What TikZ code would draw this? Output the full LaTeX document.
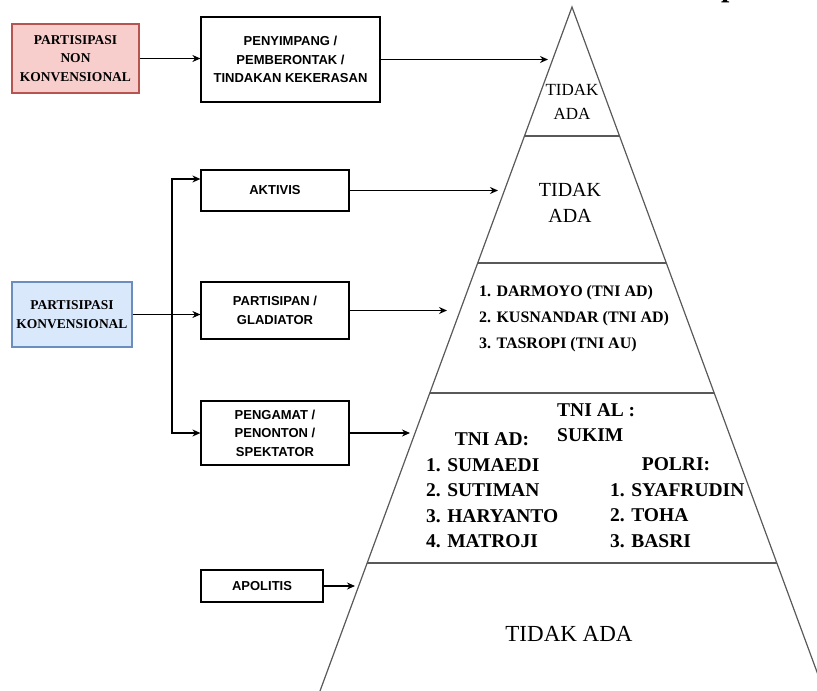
\documentclass[tikz,border=0pt]{standalone}
\usepackage{fontspec}
\setmainfont{Liberation Serif}
\setsansfont{Liberation Sans}
\usetikzlibrary{arrows.meta,calc}
\definecolor{pinkfill}{HTML}{F8CECC}
\definecolor{pinkline}{HTML}{B85450}
\definecolor{bluefill}{HTML}{DAE8FC}
\definecolor{blueline}{HTML}{6C8EBF}

\begin{document}
\begin{tikzpicture}[
  x=1pt, y=-1pt,
  box/.style={rectangle, draw, line width=1.2pt, minimum width=148pt, align=center,
    inner sep=2pt, font=\sffamily\bfseries\fontsize{13}{18.5}\selectfont},
  grp/.style={rectangle, draw, line width=1.2pt, align=center, inner sep=2pt,
    font=\bfseries\fontsize{13.5}{18.5}\selectfont},
  lvl/.style={inner sep=0pt, align=center},
  names/.style={inner sep=0pt, align=left, anchor=north west,
    font=\bfseries\fontsize{19.5}{25.5}\selectfont},
  head/.style={inner sep=0pt, font=\bfseries\fontsize{19.5}{25.5}\selectfont},
  arr/.style={-{Stealth[length=8pt,width=7pt]}, line width=1.2pt},
  pyr/.style={line width=1.2pt, black!65, line join=miter}
]
\useasboundingbox (0,0) rectangle (817,691);

\node[grp, fill=pinkfill, draw=pinkline, minimum width=127pt, minimum height=69pt]
  (nonkonv) at (75.5,58.5) {PARTISIPASI\\NON\\KONVENSIONAL};
\node[grp, fill=bluefill, draw=blueline, minimum width=120pt, minimum height=65pt]
  (konv) at (72,314.5) {PARTISIPASI\\KONVENSIONAL};
\node[box, minimum width=179pt, minimum height=85pt] (penyimpang) at (290.5,59.5)
  {PENYIMPANG /\\PEMBERONTAK /\\TINDAKAN KEKERASAN};
\node[box, minimum height=41pt] (aktivis)    at (275,190.5) {AKTIVIS};
\node[box, minimum height=57pt] (partisipan) at (275,310.5) {PARTISIPAN /\\GLADIATOR};
\node[box, minimum height=64pt] (pengamat)   at (275,433)   {PENGAMAT /\\PENONTON /\\SPEKTATOR};
\node[box, minimum width=122pt, minimum height=32pt] (apolitis) at (262,586) {APOLITIS};

\coordinate (apex)  at (572,7);
\coordinate (baseL) at (320,691);
\coordinate (baseR) at (824,691);
\begin{scope}
  \clip (0,0) rectangle (817,691);
  \draw[pyr] ($(apex)!1.1!(baseL)$) -- (apex) -- ($(apex)!1.1!(baseR)$);
  \foreach \f in {0.1886,0.3743,0.5643,0.8129}
    \draw[pyr] ($(apex)!\f!(baseL)$) -- ($(apex)!\f!(baseR)$);
\end{scope}

\node[lvl, font=\fontsize{17}{24}\selectfont] (lvlone) at (572,102) {TIDAK\\ADA};
\node[lvl, font=\fontsize{20}{26}\selectfont] (lvltwo) at (570,202.5) {TIDAK\\ADA};
\node[names, font=\bfseries\fontsize{16}{26}\selectfont] (gladiator) at (479,285)
  {1. DARMOYO (TNI AD)\\2. KUSNANDAR (TNI AD)\\3. TASROPI (TNI AU)};
\node[names] (tnial) at (557,403) {TNI AL :\\SUKIM};
\node[head] (tniad) at (492,439.5) {TNI AD:};
\node[names] (tniadlist) at (426,458) {1. SUMAEDI\\2. SUTIMAN\\3. HARYANTO\\4. MATROJI};
\node[head] (polri) at (676,464.5) {POLRI:};
\node[names] (polrilist) at (610,483) {1. SYAFRUDIN\\2. TOHA\\3. BASRI};
\node[lvl, font=\fontsize{23}{23}\selectfont] (lvlfive) at (569,633.5) {TIDAK ADA};
\node[anchor=base west, inner sep=0pt, font=\bfseries\fontsize{30}{30}\selectfont]
  (titlep) at (721,-4) {p};

\coordinate (inA) at (548,60);
\coordinate (inB) at (498,189);
\coordinate (inC) at (447,311);
\coordinate (inD) at (410,435);
\coordinate (inE) at (355,583);
\coordinate (split) at (172,314);

\draw[arr] (nonkonv.east) -- (nonkonv.east -| penyimpang.west);
\draw[arr] (konv.east) -- (konv.east -| partisipan.west);
\draw[arr] (split) |- ([yshift=11.5pt]aktivis.west);
\draw[arr] (split) |- (pengamat.west);
\draw[arr] (penyimpang.east) -- (penyimpang.east -| inA);
\draw[arr] (aktivis.east)    -- (aktivis.east -| inB);
\draw[arr] (partisipan.east) -- (partisipan.east -| inC);
\draw[arr] (pengamat.east)   -- (pengamat.east -| inD);
\draw[arr] (apolitis.east)   -- (apolitis.east -| inE);
\end{tikzpicture}
\end{document}
